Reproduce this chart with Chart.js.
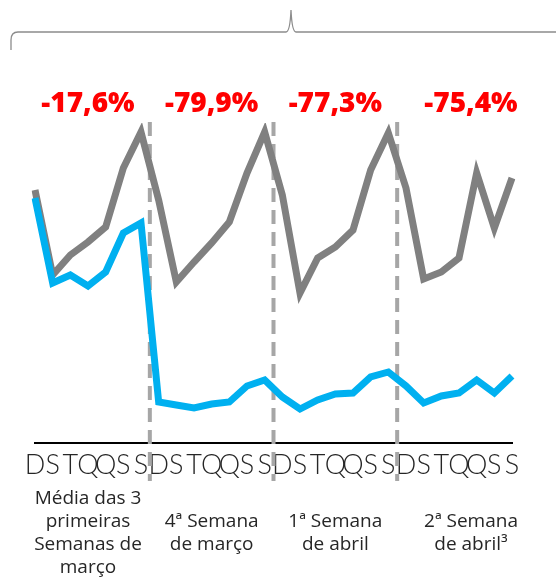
<!DOCTYPE html>
<html>
<head>
<meta charset="utf-8">
<script src="https://cdn.jsdelivr.net/npm/chart.js@4.4.1/dist/chart.umd.min.js"></script>
<style>
  html, body { margin: 0; padding: 0; background: #fff; }
</style>
</head>
<body>
<canvas id="mobility-chart" width="556" height="577"></canvas>
<script>
// Chart data
const dayLabels = ['D', 'S', 'T', 'Q', 'Q', 'S', 'S', 'D', 'S', 'T', 'Q', 'Q', 'S', 'S',
                   'D', 'S', 'T', 'Q', 'Q', 'S', 'S', 'D', 'S', 'T', 'Q', 'Q', 'S', 'S'];
const grayValues = [253, 168, 188, 201, 216, 275, 311, 243, 161, 181, 200, 221, 270, 311,
                    248, 150, 185, 196, 213, 273, 310, 255, 164, 171, 185, 270, 215, 265];
const blueValues = [245, 160, 168, 157, 171, 210, 220, 41, 38, 35, 39, 41, 57, 63,
                    46, 34, 43, 49, 50, 66, 71, 57, 40, 47, 50, 63, 50, 67];
const weekChanges = ['-17,6%', '-79,9%', '-77,3%', '-75,4%'];
const weekNames = [
  ['Média das 3', 'primeiras', 'Semanas de', 'março'],
  ['4ª Semana', 'de março'],
  ['1ª Semana', 'de abril'],
  ['2ª Semana', 'de abril³']
];
const daysPerWeek = 7;

const overlay = {
  id: 'overlay',
  beforeDatasetsDraw(chart) {
    // dashed separators between the weeks
    const ctx = chart.ctx;
    const x = chart.scales.x;
    ctx.save();
    ctx.strokeStyle = '#a6a6a6';
    ctx.lineWidth = 4;
    ctx.setLineDash([14, 8]);
    for (let w = 1; w < weekChanges.length; w++) {
      const px = (x.getPixelForValue(w * daysPerWeek - 1) + x.getPixelForValue(w * daysPerWeek)) / 2;
      ctx.beginPath();
      ctx.moveTo(px, 122);
      ctx.lineTo(px, 481);
      ctx.stroke();
    }
    ctx.restore();
  },
  afterDraw(chart) {
    const ctx = chart.ctx;
    const x = chart.scales.x;
    ctx.save();

    // brace on top
    ctx.strokeStyle = '#8c8c8c';
    ctx.lineWidth = 1.3;
    ctx.beginPath();
    ctx.moveTo(11, 50);
    ctx.lineTo(11, 40);
    ctx.quadraticCurveTo(11, 32, 18, 32);
    ctx.lineTo(286, 32);
    ctx.quadraticCurveTo(290, 32, 291, 10);
    ctx.quadraticCurveTo(292, 32, 296, 32);
    ctx.lineTo(556, 32);
    ctx.stroke();

    ctx.textAlign = 'center';
    ctx.textBaseline = 'middle';
    const shift = [0, 0, 0, 12];
    for (let w = 0; w < weekChanges.length; w++) {
      const cx = (x.getPixelForValue(w * daysPerWeek) + x.getPixelForValue(w * daysPerWeek + daysPerWeek - 1)) / 2 + shift[w];
      // change in red
      ctx.fillStyle = '#ff0000';
      ctx.font = '800 28px "Open Sans"';
      ctx.fillText(weekChanges[w], cx, 104);
      // week name below
      ctx.fillStyle = '#262626';
      ctx.font = '19px "Open Sans"';
      const lines = weekNames[w];
      const lh = 23;
      const top = 533 - (lines.length - 1) * lh / 2;
      lines.forEach((t, i) => ctx.fillText(t, cx, top + i * lh));
    }
    ctx.restore();
  }
};

const ctx = document.getElementById('mobility-chart');

new Chart(ctx, {
  type: 'line',
  data: {
    labels: dayLabels,
    datasets: [{
      data: blueValues,
      borderColor: '#00b0f0',
      borderWidth: 7,
      pointRadius: 0,
      tension: 0,
      order: 0
    }, {
      data: grayValues,
      borderColor: '#808080',
      borderWidth: 7,
      pointRadius: 0,
      tension: 0,
      order: 1
    }]
  },
  options: {
    responsive: false,
    animation: false,
    layout: {
      padding: { top: 123, left: 35, right: 44, bottom: 0 }
    },
    scales: {
      x: {
        offset: false,
        grid: { display: true, drawOnChartArea: false, drawTicks: false, color: 'rgba(0,0,0,0)' },
        border: { display: true, color: '#000', width: 2 },
        ticks: {
          autoSkip: false,
          maxRotation: 0,
          minRotation: 0,
          padding: 6,
          color: '#262626',
          font: { family: 'Lato', size: 27, weight: '300' }
        },
        afterFit: function(scale) {
          scale.height = 134;
        }
      },
      y: {
        display: false,
        min: 0,
        max: 320
      }
    },
    plugins: {
      legend: { display: false },
      tooltip: { enabled: false }
    }
  },
  plugins: [overlay]
});
</script>
</body>
</html>
